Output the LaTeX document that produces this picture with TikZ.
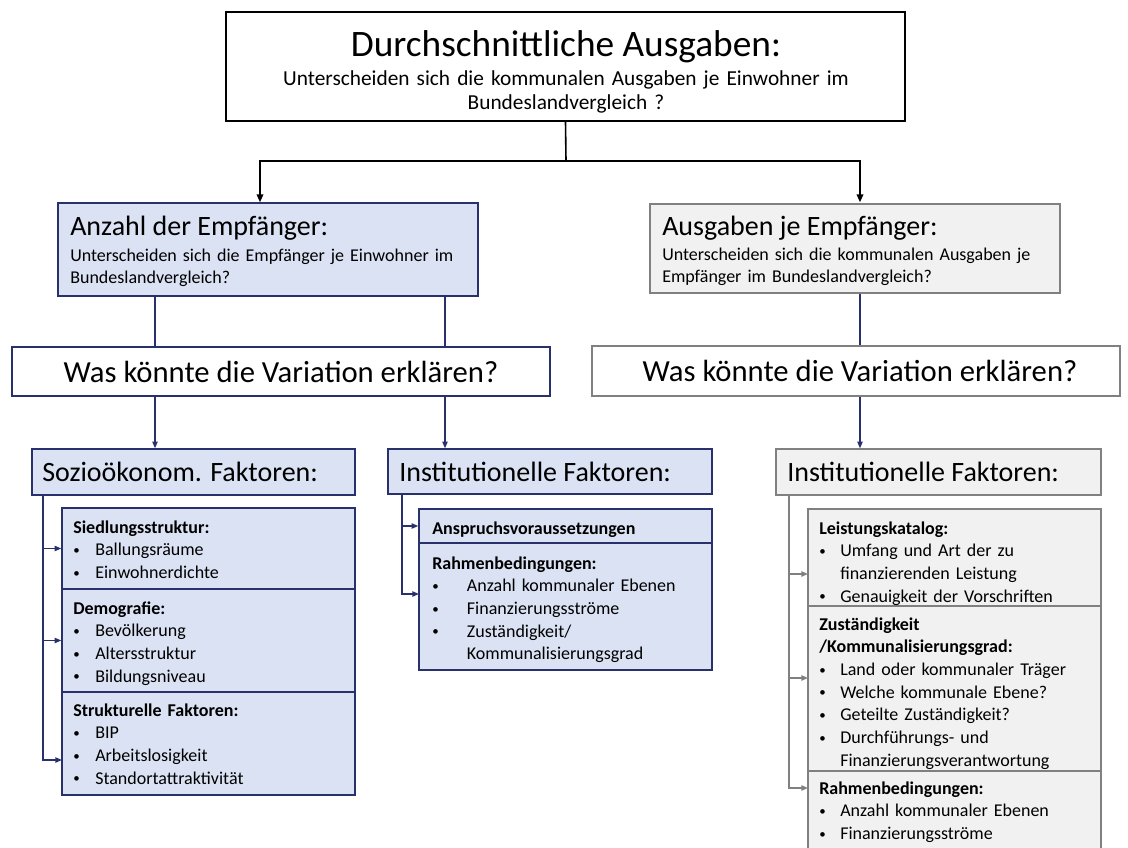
\documentclass[tikz,border=0pt]{standalone}
\usepackage{fontspec}
\setmainfont{Carlito}
\usetikzlibrary{arrows.meta,fit}

\definecolor{navy}{HTML}{28316C}
\definecolor{paleblue}{HTML}{DAE2F3}
\definecolor{greyline}{HTML}{808080}
\definecolor{greyfill}{HTML}{F1F1F1}

\newcommand{\bdot}{\raisebox{0.8pt}{\scalebox{0.72}{\textbullet}}}
\newcommand{\bul}[2][16.5pt]{\makebox[#1][l]{\bdot}#2}
\newcommand{\cnt}[2][16.5pt]{\hspace*{#1}#2}

\begin{document}
\begin{tikzpicture}[x=0.75pt,y=-0.75pt]

\tikzstyle{boxtop}=[draw=black, line width=1.3pt, fill=white, inner sep=0pt]
\tikzstyle{boxblue}=[draw=navy, line width=1.1pt, fill=paleblue, inner sep=0pt]
\tikzstyle{boxgrey}=[draw=greyline, line width=1pt, fill=greyfill, inner sep=0pt]
\tikzstyle{boxwas}=[line width=1pt, fill=white, inner sep=0pt]

\tikzstyle{wastext}=[inner sep=0pt, font=\fontsize{23}{27}\selectfont]
\tikzstyle{bigtext}=[anchor=west, inner sep=0pt, font=\fontsize{21}{25}\selectfont]
\tikzstyle{headtext}=[anchor=base west, inner sep=0pt, font=\fontsize{21}{25}\selectfont]
\tikzstyle{subtext}=[anchor=base west, inner sep=0pt, text width=12cm, align=left,
  font=\fontsize{13.5}{16}\selectfont]
\tikzstyle{itemtext}=[anchor=base west, inner sep=0pt, text width=12cm, align=left,
  font=\fontsize{13.5}{17}\selectfont]

\tikzstyle{blackline}=[black, line width=1.2pt]
\tikzstyle{blackarrow}=[blackline, -{Triangle[length=6pt,width=5pt]}]
\tikzstyle{navyline}=[navy, line width=1pt]
\tikzstyle{navyarrow}=[navyline, -{Triangle[length=5pt,width=4pt]}]
\tikzstyle{greyarrow}=[greyline, line width=1pt, -{Triangle[length=5pt,width=4pt]}]

\useasboundingbox (0,0) rectangle (1128,848);
\fill[white] (0,0) rectangle (1128,848);

% define points
\path
  (566,161) coordinate(jn)
  (155,0) coordinate(lx1)
  (445,0) coordinate(lx2)
  (860,0) coordinate(rx)
  (43,0) coordinate(bl)
  (402,0) coordinate(il)
  (789,0) coordinate(rl)
  (62,760) coordinate(a3)
  (419,594) coordinate(ib)
  (808,574) coordinate(ra)
  (808,678) coordinate(rb)
  (808,788) coordinate(rc)
  ;

% top box
\node[boxtop, fit={(226,12)(905,121)}] (top) {};
\node[anchor=base, inner sep=0pt, font=\fontsize{28}{32}\selectfont] (topT) at (566,57)
  {Durchschnittliche Ausgaben:};
\node[anchor=base, inner sep=0pt, text width=16cm, align=center,
  font=\fontsize{16}{17.3}\selectfont] (topS) at (566,86)
  {Unterscheiden sich die kommunalen Ausgaben je Einwohner im\\Bundeslandvergleich ?};

% second row
\node[boxblue, fit={(58,203)(478,296)}] (anz) {};
\node[headtext] (anzT) at (70,236) {Anzahl der Empfänger:};
\node[subtext] (anzS) at (70,262)
  {Unterscheiden sich die Empfänger je Einwohner im\\Bundeslandvergleich?};

\node[boxgrey, fit={(650,204)(1060,293)}] (aus) {};
\node[headtext] (ausT) at (662,236) {Ausgaben je Empfänger:};
\node[subtext] (ausS) at (662,261)
  {Unterscheiden sich die kommunalen Ausgaben je\\Empfänger im Bundeslandvergleich?};

% question boxes
\node[boxwas, draw=navy, fit={(12,347)(550,396)}] (wasL) {};
\node[wastext] (wasLT) at (wasL.center) {Was könnte die Variation erklären?};
\node[boxwas, draw=greyline, fit={(592,346)(1120,396)}] (wasR) {};
\node[wastext] (wasRT) at (860,371) {Was könnte die Variation erklären?};

% factor boxes
\node[boxblue, fit={(32,449)(355,495)}] (soz) {};
\node[bigtext] (sozT) at (42,472) {Sozioökonom. Faktoren:};
\node[boxblue, fit={(388,449)(712,494)}] (insL) {};
\node[bigtext] (insLT) at (399,472) {Institutionelle Faktoren:};
\node[boxgrey, fit={(776,449)(1101,495)}] (insR) {};
\node[bigtext] (insRT) at (787,472) {Institutionelle Faktoren:};

% left sub boxes
\node[boxblue, fit={(62,508)(355,589)}] (sb1) {};
\node[boxblue, fit={(62,589)(355,692)}] (sb2) {};
\node[boxblue, fit={(62,692)(355,795)}] (sb3) {};
\node[itemtext] (sb1T) at (73,533)
  {\textbf{Siedlungsstruktur:}\\\bul{Ballungsräume}\\\bul{Einwohnerdichte}};
\node[itemtext] (sb2T) at (73,614)
  {\textbf{Demografie:}\\\bul{Bevölkerung}\\\bul{Altersstruktur}\\\bul{Bildungsniveau}};
\node[itemtext] (sb3T) at (73,716)
  {\textbf{Strukturelle Faktoren:}\\\bul{BIP}\\\bul{Arbeitslosigkeit}\\\bul{Standortattraktivität}};

% middle sub boxes
\node[boxblue, fit={(419,509)(712,543)}] (iA) {};
\node[boxblue, fit={(419,543)(712,670)}] (iB) {};
\node[itemtext] (iAT) at (432,534) {\textbf{Anspruchsvoraussetzungen}};
\node[itemtext] (iBT) at (432,569)
  {\textbf{Rahmenbedingungen:}\\\bul[26pt]{Anzahl kommunaler Ebenen}\\
   \bul[26pt]{Finanzierungsströme}\\\bul[26pt]{Zuständigkeit/}\\
   \cnt[26pt]{Kommunalisierungsgrad}};

% right sub boxes
\node[boxgrey, fit={(808,509)(1101,606)}] (rA) {};
\node[boxgrey, fit={(808,606)(1101,771)}] (rB) {};
\node[boxgrey, fit={(808,771)(1101,862)}] (rC) {};
\node[itemtext] (rAT) at (819,534)
  {\textbf{Leistungskatalog:}\\\bul[15.75pt]{Umfang und Art der zu}\\
   \cnt[15.75pt]{finanzierenden Leistung}\\\bul[15.75pt]{Genauigkeit der Vorschriften}};
\node[itemtext] (rBT) at (819,630)
  {\textbf{Zuständigkeit}\\\textbf{/Kommunalisierungsgrad:}\\
   \bul[15.75pt]{Land oder kommunaler Träger}\\\bul[15.75pt]{Welche kommunale Ebene?}\\
   \bul[15.75pt]{Geteilte Zuständigkeit?}\\\bul[15.75pt]{Durchführungs- und}\\
   \cnt[15.75pt]{Finanzierungsverantwortung}};
\node[itemtext] (rCT) at (819,794)
  {\textbf{Rahmenbedingungen:}\\\bul[15.75pt]{Anzahl kommunaler Ebenen}\\
   \bul[15.75pt]{Finanzierungsströme}};

% draw lines
\draw[blackline] (top.south) -- (jn);
\draw[blackarrow] (jn) -| ([xshift=-6pt]anz.north);
\draw[blackarrow] (jn) -| (anz.north -| rx);

\draw[navyline] (anz.south -| lx1) -- (wasL.north -| lx1);
\draw[navyline] (anz.south -| lx2) -- (wasL.north -| lx2);
\draw[navyarrow] (wasL.south -| lx1) -- (soz.north -| lx1);
\draw[navyarrow] (wasL.south -| lx2) -- (insL.north -| lx2);

\draw[navyline] (aus.south -| rx) -- (wasR.north -| rx);
\draw[navyarrow] (wasR.south -| rx) -- (insR.north -| rx);

\draw[navyarrow] (soz.south -| bl) |- (a3);
\draw[navyarrow] (bl |- sb1.west) -- (sb1.west);
\draw[navyarrow] (bl |- sb2.west) -- (sb2.west);

\draw[navyarrow] (insL.south -| il) |- (ib);
\draw[navyarrow] (il |- iA.west) -- (iA.west);

\draw[greyarrow] (insR.south -| rl) |- (rc);
\draw[greyarrow] (rl |- ra) -- (ra);
\draw[greyarrow] (rl |- rb) -- (rb);

\end{tikzpicture}
\end{document}
